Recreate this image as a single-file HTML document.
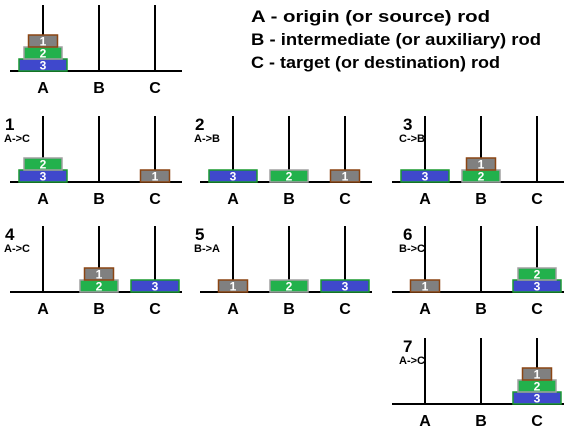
<!DOCTYPE html>
<html><head><meta charset="utf-8"><style>
body{margin:0;background:#fff;}
svg{display:block;font-family:"Liberation Sans",sans-serif;}
</style></head><body>
<svg width="566" height="431" viewBox="0 0 566 431" id="s">
<g font-size="17" font-weight="bold" fill="#000">
<text x="251" y="22" textLength="239" lengthAdjust="spacingAndGlyphs">A - origin (or source) rod</text>
<text x="251" y="45" textLength="290" lengthAdjust="spacingAndGlyphs">B - intermediate (or auxiliary) rod</text>
<text x="251" y="68" textLength="249" lengthAdjust="spacingAndGlyphs">C - target (or destination) rod</text>
</g>
</svg>
<script>
const stepLabels=["","1","2","3","4","5","6","7"];
const moveLabels=["","A->C","A->B","C->B","A->C","B->A","B->C","A->C"];
// rod contents per step, bottom to top
const states=[
 [[3,2,1],[],[]],
 [[3,2],[],[1]],
 [[3],[2],[1]],
 [[3],[2,1],[]],
 [[],[2,1],[3]],
 [[1],[2],[3]],
 [[1],[],[3,2]],
 [[],[],[3,2,1]]
];
const panelCol=[0,0,1,2,0,1,2,2];
const panelRow=[0,1,1,1,2,2,2,3];
const colOff=[0,190,382];
const rowBase=[71,182,292,404];
const rodRel=[43,99,155];
const diskW={1:29,2:38,3:48};
const diskFill={1:"#808080",2:"#22b14c",3:"#3f48cc"};
const diskStroke={1:"#8b4513",2:"#a0a0a0",3:"#1a9a30"};
const svg=document.getElementById('s');
const NS="http://www.w3.org/2000/svg";
function mk(t,a){const e=document.createElementNS(NS,t);for(const k in a)e.setAttribute(k,a[k]);svg.appendChild(e);return e;}
states.forEach((st,i)=>{
 const ox=colOff[panelCol[i]], base=rowBase[panelRow[i]];
 const bl=mk('line',{x1:ox+10,y1:base,x2:ox+182,y2:base,stroke:'#000','stroke-width':2});
 
 
 rodRel.forEach((rx,r)=>{
  const x=ox+rx;
  const rod=mk('line',{x1:x,y1:base-66,x2:x,y2:base,stroke:'#000','stroke-width':2});
  
  
  const lb=mk('text',{x:x,y:base+22,'text-anchor':'middle','font-size':16,'font-weight':'bold'});
  lb.textContent='ABC'[r];
  
  
  st[r].forEach((d,k)=>{
   const w=diskW[d], y=base-12*(k+1);
   const rc=mk('rect',{x:x-w/2,y:y,width:w,height:12,fill:diskFill[d],stroke:diskStroke[d],'stroke-width':1.5});
   
   
   const t=mk('text',{x:x,y:y+10.5,'text-anchor':'middle','font-size':12,'font-weight':'bold',fill:'#fff'});
   t.textContent=d;
   
   
  });
 });
 if(stepLabels[i]){
  const n=mk('text',{x:ox+5+(panelCol[i]==2?16:0),y:base-52,'font-size':17,'font-weight':'bold'});
  n.textContent=stepLabels[i];
  
  
  const m=mk('text',{x:ox+4+(panelCol[i]==2?13:0),y:base-40,'font-size':11,'font-weight':'bold'});
  m.textContent=moveLabels[i];
  
  
 }
});
</script>
</body></html>
